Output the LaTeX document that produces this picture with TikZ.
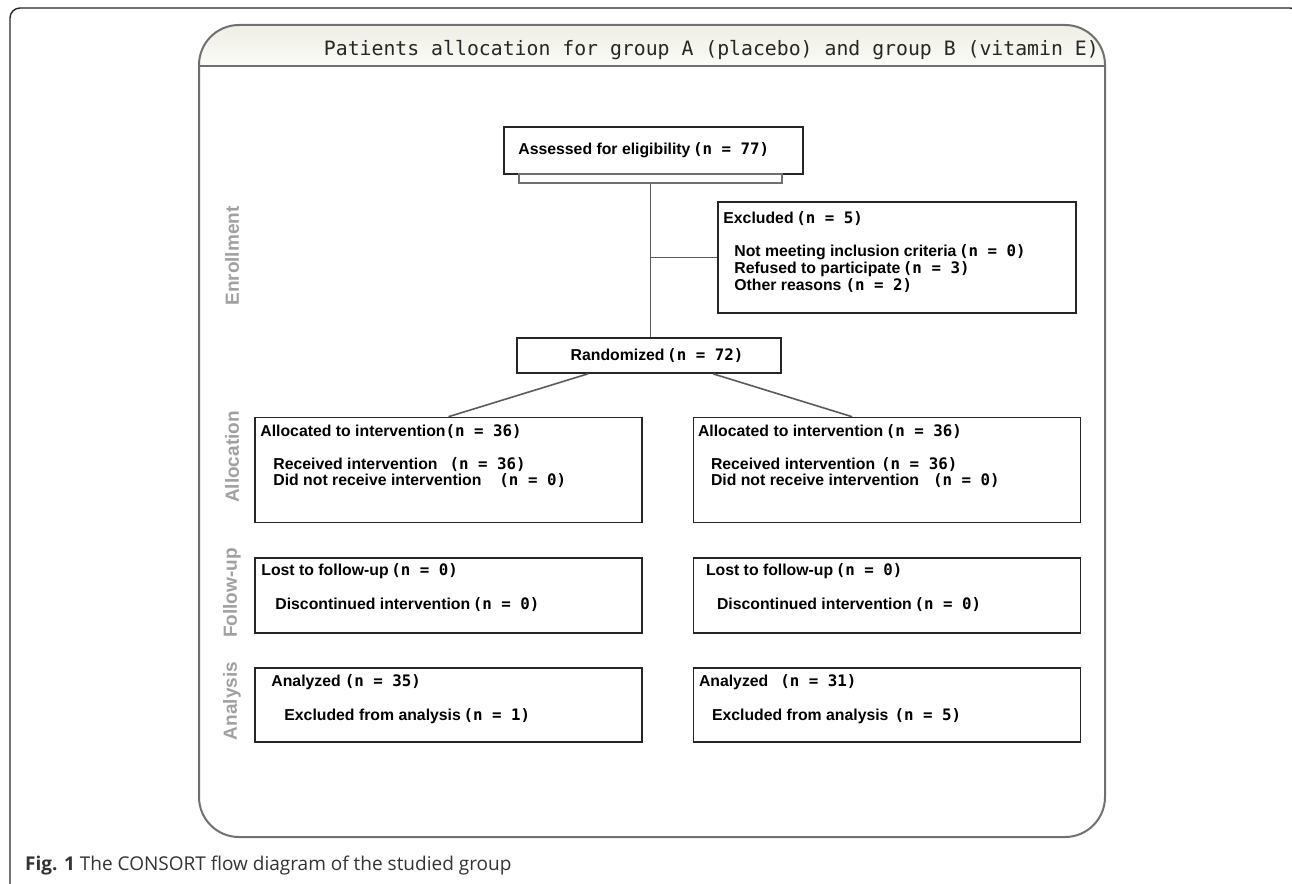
\documentclass[tikz,border=0pt]{standalone}
\usepackage{fontspec}
\setmainfont{Liberation Sans}
\newfontfamily\nfont{DejaVu Sans Mono}
\newfontfamily\titlefont{DejaVu Sans Mono}
\newfontfamily\capfont{Open Sans}
\usepackage{xcolor}
\usetikzlibrary{arrows.meta, positioning, calc}

\definecolor{framegray}{HTML}{707070}
\definecolor{bandtop}{HTML}{EEEEE4}
\definecolor{bandbot}{HTML}{FBFBF8}
\definecolor{stagegray}{HTML}{A0A0A0}
\definecolor{linkgray}{HTML}{5A5A5A}
\definecolor{capgray}{HTML}{333333}

% count in the typewriter face of the original
\newcommand{\nn}[1]{{\nfont\bfseries (n = #1)}}

\begin{document}
\begin{tikzpicture}[
		x=1pt, y=-1pt,
		node distance=34pt and 50pt,
		box/.style={rectangle, draw=black!85, line width=1.6pt, inner sep=0pt},
		armbox/.style={box, minimum width=387pt},
		txt/.style={anchor=west, inner sep=0pt, align=left, font=\fontsize{15.8}{17}\selectfont\bfseries},
		stage/.style={rotate=90, inner sep=0pt, text=stagegray, font=\fontsize{19}{21}\selectfont\bfseries},
		link/.style={draw=linkgray, line width=1.6pt}
		]
		\useasboundingbox (0,0) rectangle (1292,883);
		
		% Outer page frame, cut by the picture edge
		\begin{scope}
			\clip (0,0) rectangle (1292,883);
			\draw[black!85, line width=1.4pt, rounded corners=10pt] (10,8) rectangle (1300,900);
		\end{scope}
		
		% Inner panel with title band
		\begin{scope}
			\clip[rounded corners=40pt] (199,25) rectangle (1105,837);
			\shade[top color=bandtop, bottom color=bandbot] (199,25) rectangle (1105,66);
		\end{scope}
		\draw[framegray, line width=2pt, rounded corners=40pt] (199,25) rectangle (1105,837);
		\draw[framegray, line width=2pt] (199,66) -- (1105,66);
		\node[anchor=east, inner sep=0pt, text=black!85, font=\titlefont\fontsize{19.8}{22}\selectfont] (title) at (1099,50)
			{Patients allocation for group A (placebo) and group B (vitamin E)};
		
		% Stage labels on the left
		\node[stage] (lblenrol) at (232,256) {Enrollment};
		\node[stage] (lblalloc) at (232,457) {Allocation};
		\node[stage] (lblfollow) at (232,593) {Follow-up};
		\node[stage] (lblanalysis) at (232,701) {Analysis};
		
		% Enrollment
		\node[box, minimum width=299pt, minimum height=47pt] (assess) at (653.5,150.5) {};
		\node[box, draw=framegray, line width=1.2pt, minimum width=263pt, minimum height=9pt] (assessbase) at (650.5,178.5) {};
		\node[box, minimum width=358pt, minimum height=111pt] (exclude) at (897,257.5) {};
		\node[box, minimum width=264pt, minimum height=35pt] (rand) at (649,355.5) {};
		
		% Two arms
		\node[armbox, minimum height=105pt] (allocA) at (448.5,470) {};
		\node[armbox, minimum height=105pt, right=of allocA] (allocB) {};
		\node[armbox, minimum height=75pt, below=of allocA] (followA) {};
		\node[armbox, minimum height=75pt, right=of followA] (followB) {};
		\node[armbox, minimum height=74pt, below=33pt of followA] (analysisA) {};
		\node[armbox, minimum height=74pt, right=of analysisA] (analysisB) {};
		
		% Texts
		\node[txt] (assesstxt) at ([xshift=15pt]assess.west) {Assessed for eligibility\,\nn{77}};
		\node[txt] (excludetxt) at ([shift={(6pt,-17pt)}]exclude.north west) {Excluded\,\nn{5}};
		\node[txt] (excludewhy) at ([shift={(17pt,-67pt)}]exclude.north west)
			{Not meeting inclusion criteria\,\nn{0}\\Refused to participate\,\nn{3}\\Other reasons\hspace{4pt}\nn{2}};
		\node[txt, anchor=center] (randtxt) at ([xshift=8pt]rand.center) {Randomized\,\nn{72}};
		
		\node[txt] (allocAtxt) at ([shift={(6pt,-15pt)}]allocA.north west) {Allocated to intervention\nn{36}};
		\node[txt, font=\fontsize{15.8}{16.5}\selectfont\bfseries] (allocAsub) at ([shift={(19pt,-56pt)}]allocA.north west)
			{Received intervention\hspace{12pt}\nn{36}\\Did not receive intervention\hspace{18pt}\nn{0}};
		\node[txt] (allocBtxt) at ([shift={(5pt,-15pt)}]allocB.north west) {Allocated to intervention\,\nn{36}};
		\node[txt, font=\fontsize{15.8}{16.5}\selectfont\bfseries] (allocBsub) at ([shift={(18pt,-56pt)}]allocB.north west)
			{Received intervention\hspace{6pt}\nn{36}\\Did not receive intervention\hspace{14pt}\nn{0}};
		
		\node[txt] (followAtxt) at ([shift={(7pt,-14pt)}]followA.north west) {Lost to follow-up\,\nn{0}};
		\node[txt] (followAsub) at ([shift={(21pt,-47pt)}]followA.north west) {Discontinued intervention\,\nn{0}};
		\node[txt] (followBtxt) at ([shift={(13pt,-14pt)}]followB.north west) {Lost to follow-up\,\nn{0}};
		\node[txt] (followBsub) at ([shift={(24pt,-47pt)}]followB.north west) {Discontinued intervention\,\nn{0}};
		
		\node[txt] (analysisAtxt) at ([shift={(17pt,-15pt)}]analysisA.north west) {Analyzed\hspace{4pt}\nn{35}};
		\node[txt] (analysisAsub) at ([shift={(30pt,-49pt)}]analysisA.north west) {Excluded from analysis\,\nn{1}};
		\node[txt] (analysisBtxt) at ([shift={(6pt,-15pt)}]analysisB.north west) {Analyzed\hspace{12pt}\nn{31}};
		\node[txt] (analysisBsub) at ([shift={(19pt,-49pt)}]analysisB.north west) {Excluded from analysis\hspace{6pt}\nn{5}};
		
		% Connectors
		\draw[link] (assessbase.south) -- (assessbase.south |- rand.north);
		\draw[link] (assessbase.south |- exclude.west) -- (exclude.west);
		\draw[link] ([xshift=-61pt]rand.south) -- (allocA.north);
		\draw[link] ([xshift=64pt]rand.south) -- ([xshift=-35pt]allocB.north);
		
		% Caption
		\node[anchor=west, inner sep=0pt, text=capgray, font=\capfont\fontsize{19}{21}\selectfont] (caption) at (25,866)
			{\textbf{Fig. 1} The CONSORT flow diagram of the studied group};
		
	\end{tikzpicture}
\end{document}
